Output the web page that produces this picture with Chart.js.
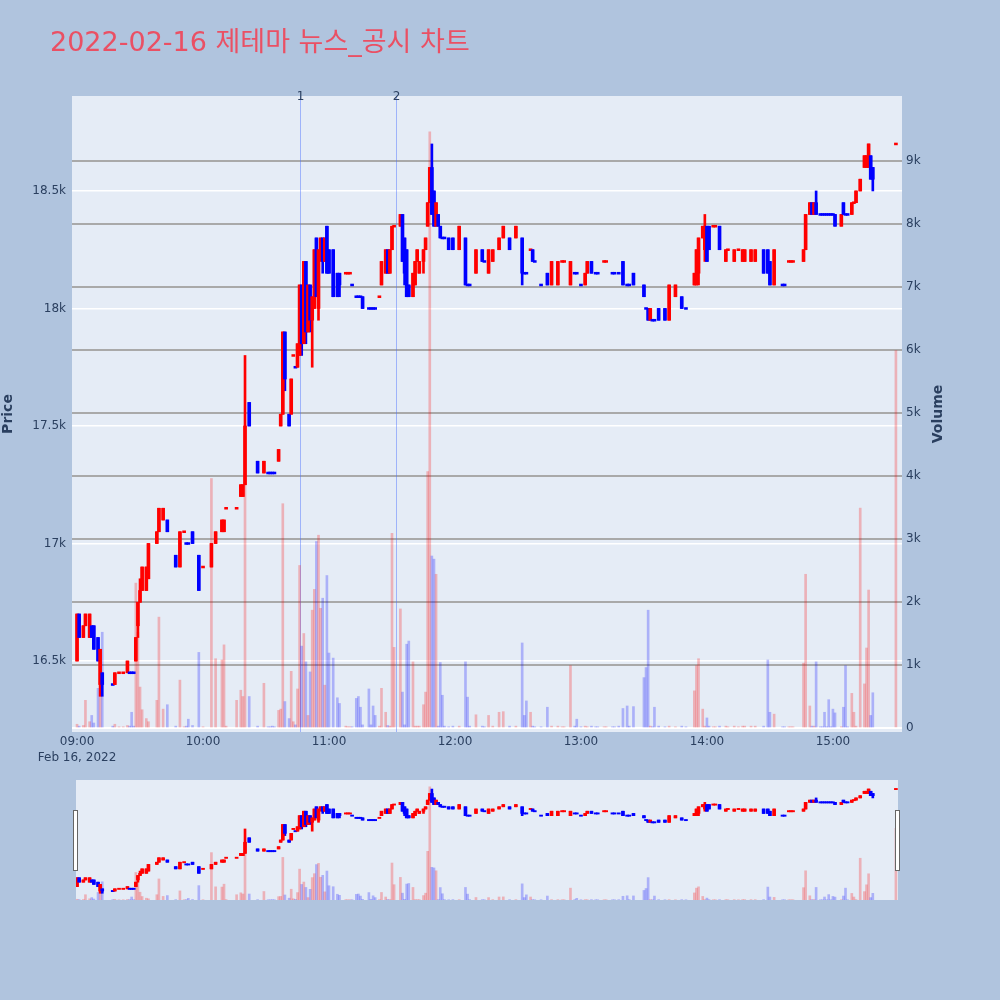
<!DOCTYPE html>
<html>
<head>
<meta charset="utf-8">
<script src="https://cdn.jsdelivr.net/npm/chart.js@4.4.1/dist/chart.umd.min.js"></script>
<style>
  body { margin: 0; background: #b0c4de; }
  #wrap { position: relative; width: 1000px; height: 1000px; background: #b0c4de; overflow: hidden; }
  #title { position: absolute; left: 50px; top: 27px; font: 27px "DejaVu Sans", "Noto Sans CJK KR", sans-serif; color: #ea5064; white-space: nowrap; line-height: 30px; }
  #main { position: absolute; left: 0; top: 0; width: 1000px; height: 775px; }
  #slider { position: absolute; left: 76px; top: 780px; width: 822px; height: 120px; }
  .handle { position: absolute; top: 810px; width: 3px; height: 59px; background: #fff; border: 1px solid #666; }
</style>
</head>
<body>
<div id="wrap">
  <canvas id="main" width="1000" height="775"></canvas>
  <canvas id="slider" width="822" height="120"></canvas>
  <div id="title">2022-02-16 제테마 뉴스_공시 차트</div>
  <div class="handle" style="left:73px"></div>
  <div class="handle" style="left:895px"></div>
</div>
<script>
// 1-minute candles (only the minutes that traded)
const times = [
  '09:00','09:01','09:03','09:04','09:06','09:07','09:08','09:10','09:11','09:12','09:17','09:18','09:20','09:22','09:24','09:25','09:26','09:27','09:28','09:29','09:30','09:31','09:33','09:34','09:38','09:39','09:41','09:43','09:47','09:49','09:51','09:52','09:53','09:55','09:58',
  '10:00','10:04','10:06','10:09','10:10','10:11','10:16','10:18','10:19','10:20','10:22','10:26','10:29','10:31','10:32','10:33','10:34','10:36','10:37','10:38','10:39','10:41','10:42','10:43','10:44','10:45','10:46','10:47','10:48','10:49','10:50','10:51','10:52','10:53','10:54','10:55','10:56','10:57','10:58','10:59',
  '11:00','11:02','11:04','11:05','11:08','11:09','11:10','11:11','11:13','11:14','11:15','11:16','11:19','11:20','11:21','11:22','11:24','11:25','11:27','11:28','11:29','11:30','11:31','11:34','11:35','11:36','11:37','11:38','11:40','11:41','11:42','11:43','11:45','11:46','11:47','11:48','11:49','11:50','11:51','11:52','11:53','11:54','11:55','11:57','11:59',
  '12:02','12:05','12:06','12:07','12:10','12:13','12:14','12:16','12:18','12:21','12:23','12:26','12:29','12:32','12:33','12:34','12:36','12:37','12:38','12:41','12:44','12:46','12:49','12:51','12:52','12:55','12:57','12:58',
  '13:00','13:02','13:03','13:05','13:07','13:08','13:11','13:12','13:15','13:16','13:18','13:20','13:22','13:23','13:25','13:30','13:31','13:32','13:33','13:34','13:35','13:37','13:40','13:42','13:45','13:48','13:50','13:54','13:55','13:56','13:58','13:59',
  '14:00','14:01','14:03','14:04','14:06','14:09','14:10','14:13','14:15','14:17','14:18','14:21','14:23','14:27','14:29','14:30','14:32','14:36','14:37','14:39','14:40','14:41','14:46','14:47','14:49','14:50','14:51','14:52','14:54','14:55','14:56','14:57','14:58','14:59',
  '15:00','15:01','15:04','15:05','15:06','15:07','15:09','15:10','15:11','15:13','15:15','15:16','15:17','15:18','15:19','15:30'
];
const opens = [
  16500,16700,16600,16650,16600,16650,16650,16600,16400,16450,16400,16400,16450,16450,16450,16450,16450,16450,16500,16650,16750,16800,16800,16850,17000,17050,17100,17100,16950,16900,17050,17000,17000,17050,16950,
  16900,16900,17000,17050,17050,17150,17150,17200,17200,17250,17600,17350,17300,17300,17300,17300,17300,17350,17500,17550,17900,17550,17550,17800,17750,17750,17800,18100,17850,18200,17900,18100,17950,18000,18300,18000,18250,18300,18200,18350,
  18250,18250,18150,18150,18150,18150,18150,18100,18050,18050,18050,18050,18000,18000,18000,18000,18050,18100,18150,18250,18150,18250,18350,18350,18400,18300,18250,18100,18050,18100,18200,18150,18200,18250,18350,18450,18600,18500,18350,18400,18350,18300,18300,18300,18300,
  18250,18300,18100,18100,18150,18250,18200,18150,18200,18250,18300,18300,18300,18300,18150,18150,18250,18250,18200,18100,18150,18100,18100,18200,18200,18100,18150,18150,
  18100,18100,18150,18200,18150,18150,18200,18200,18150,18150,18150,18200,18100,18100,18150,18100,18000,18000,17950,17950,17950,18000,18000,17950,18050,18050,18000,18100,18100,18150,18300,18250,
  18350,18350,18350,18350,18350,18200,18250,18200,18250,18200,18200,18200,18200,18250,18250,18200,18100,18100,18100,18200,18200,18200,18200,18250,18400,18450,18400,18450,18400,18400,18400,18400,18400,18400,
  18400,18400,18350,18450,18400,18400,18400,18450,18450,18500,18600,18600,18600,18650,18600,18700
];
const highs = [
  16700,16700,16650,16700,16700,16650,16650,16600,16550,16450,16400,16450,16450,16450,16500,16450,16450,16450,16600,16750,16850,16900,16900,17000,17050,17150,17150,17100,16950,17050,17050,17000,17000,17050,16950,
  16900,17000,17050,17100,17100,17150,17150,17250,17250,17800,17600,17350,17350,17300,17300,17300,17300,17400,17550,17900,17900,17550,17700,17800,17750,17850,18100,18100,18200,18200,18100,18100,18050,18250,18300,18250,18300,18300,18300,18350,
  18250,18250,18150,18150,18150,18150,18150,18100,18050,18050,18050,18050,18000,18000,18000,18000,18050,18200,18250,18250,18250,18350,18350,18400,18400,18300,18250,18100,18150,18200,18250,18200,18250,18300,18450,18600,18700,18500,18450,18400,18350,18300,18300,18300,18300,
  18350,18300,18100,18100,18250,18250,18200,18250,18250,18300,18350,18300,18350,18300,18150,18150,18250,18250,18200,18100,18150,18200,18200,18200,18200,18200,18150,18150,
  18100,18150,18200,18200,18150,18150,18200,18200,18150,18150,18150,18200,18100,18100,18150,18100,18000,18000,18000,17950,17950,18000,18000,18100,18100,18050,18000,18150,18250,18300,18350,18400,
  18350,18350,18350,18350,18350,18250,18250,18250,18250,18250,18250,18250,18250,18250,18250,18200,18250,18100,18100,18200,18200,18200,18250,18400,18450,18450,18450,18500,18400,18400,18400,18400,18400,18400,
  18400,18400,18400,18450,18400,18400,18450,18450,18500,18550,18650,18650,18700,18650,18600,18700
];
const lows = [
  16500,16600,16600,16650,16600,16600,16550,16500,16350,16350,16400,16400,16450,16450,16450,16450,16450,16450,16500,16600,16750,16800,16800,16850,17000,17050,17100,17050,16900,16900,17050,17000,17000,17000,16800,
  16900,16900,17000,17050,17050,17150,17150,17200,17200,17250,17500,17300,17300,17300,17300,17300,17300,17350,17500,17550,17650,17500,17550,17800,17750,17750,17800,17800,17850,17850,17900,17900,17750,18000,18050,17950,18200,18150,18200,18150,
  18150,18050,18050,18050,18150,18150,18150,18100,18050,18050,18050,18000,18000,18000,18000,18000,18050,18100,18150,18150,18150,18250,18350,18350,18200,18100,18050,18050,18050,18100,18200,18150,18150,18250,18350,18450,18400,18350,18350,18350,18300,18300,18300,18250,18250,
  18250,18100,18100,18100,18150,18200,18200,18150,18200,18250,18300,18250,18300,18100,18150,18150,18250,18200,18200,18100,18100,18100,18100,18200,18200,18100,18150,18150,
  18100,18100,18150,18150,18150,18150,18200,18200,18150,18150,18150,18100,18100,18100,18100,18050,18000,17950,17950,17950,17950,17950,17950,17950,18050,18000,18000,18100,18100,18100,18300,18200,
  18200,18250,18350,18350,18250,18200,18250,18200,18250,18200,18200,18200,18200,18150,18150,18100,18100,18100,18100,18200,18200,18200,18200,18250,18400,18400,18400,18400,18400,18400,18400,18400,18400,18400,
  18400,18350,18350,18400,18400,18400,18400,18450,18450,18500,18600,18600,18600,18550,18500,18700
];
const closes = [
  16700,16600,16650,16700,16700,16600,16550,16500,16550,16400,16400,16450,16450,16450,16500,16450,16450,16450,16600,16750,16800,16900,16900,17000,17050,17150,17150,17050,16900,17050,17050,17000,17000,17000,16800,
  16900,17000,17050,17100,17100,17150,17150,17250,17250,17500,17500,17300,17350,17300,17300,17300,17300,17400,17550,17900,17700,17500,17700,17800,17750,17850,18100,17850,18200,17900,18100,17950,18050,18250,18050,18250,18300,18200,18300,18150,
  18150,18050,18050,18100,18150,18150,18150,18100,18050,18050,18050,18000,18000,18000,18000,18000,18050,18200,18250,18150,18250,18350,18350,18400,18200,18150,18050,18050,18150,18200,18250,18200,18250,18300,18450,18600,18400,18350,18450,18350,18300,18300,18300,18250,18250,
  18350,18100,18100,18100,18250,18200,18200,18250,18250,18300,18350,18250,18350,18150,18150,18150,18250,18200,18200,18100,18100,18200,18200,18200,18200,18200,18150,18150,
  18100,18150,18200,18150,18150,18150,18200,18200,18150,18150,18150,18100,18100,18100,18100,18050,18000,17950,18000,17950,17950,17950,17950,18100,18100,18000,18000,18150,18250,18300,18350,18350,
  18200,18250,18350,18350,18250,18250,18250,18250,18250,18250,18250,18250,18250,18150,18150,18100,18250,18100,18100,18200,18200,18200,18250,18400,18450,18400,18450,18400,18400,18400,18400,18400,18400,18400,
  18400,18350,18400,18400,18400,18400,18450,18450,18500,18550,18650,18650,18700,18550,18550,18700
];
const volumes = [
  60,30,40,440,100,200,80,630,870,1520,30,60,20,20,40,30,250,30,2300,1520,650,290,150,100,440,1760,300,370,30,760,20,30,140,40,1200,
  20,3960,1100,1080,1320,30,440,600,500,3960,500,30,710,20,20,30,20,280,300,3560,420,150,900,100,50,620,2580,1300,1500,1050,200,890,1870,2200,2960,3060,1900,2060,680,2420,
  1190,1110,480,390,30,20,20,20,470,500,330,50,620,50,350,200,30,630,250,40,30,3090,1280,1890,570,50,1330,1380,1050,30,30,30,370,570,4070,9460,2730,2680,2440,30,1040,520,30,20,30,
  30,1050,490,30,210,30,20,200,30,250,260,30,30,1350,200,430,250,30,20,20,330,30,30,20,20,990,30,140,
  20,30,20,30,20,20,20,20,20,20,30,310,350,30,340,800,960,1870,30,20,330,30,20,30,20,30,20,590,990,1100,300,30,
  160,30,20,20,30,30,20,30,20,30,30,30,30,30,1080,250,220,20,20,20,20,20,1030,2440,350,30,30,1050,20,20,250,20,450,20,
  300,240,20,330,990,20,550,250,30,3490,700,1270,2190,200,560,5990
];

// news / disclosure markers
const eventTimes = ['10:46', '11:32'];
const eventLabels = ['1', '2'];

// axis ticks
const timeTicks = ['09:00', '10:00', '11:00', '12:00', '13:00', '14:00', '15:00'];
const priceTicks = [16500, 17000, 17500, 18000, 18500];
const volumeTicks = [0, 1000, 2000, 3000, 4000, 5000, 6000, 7000, 8000, 9000];
const dateLabel = 'Feb 16, 2022';

const UP = '#ff0000';
const DOWN = '#0000ff';
const UP_VOL = 'rgba(255, 0, 0, 0.25)';
const DOWN_VOL = 'rgba(0, 0, 255, 0.25)';
const TEXT = '#2a3f5f';
const FONT = 'DejaVu Sans';

const toMinute = (t) => {
  const [h, m] = t.split(':').map(Number);
  return (h - 9) * 60 + m;
};
const toClock = (minute) => {
  const h = 9 + Math.floor(minute / 60);
  const m = minute % 60;
  return `${String(h).padStart(2, '0')}:${String(m).padStart(2, '0')}`;
};

const minutes = times.map(toMinute);

// same rule as plotly: flat candles take their direction from the previous close
const rising = [];
closes.forEach((c, i) => {
  const o = opens[i];
  if (c !== o) { rising.push(c > o); return; }
  if (i === 0) { rising.push(true); return; }
  const prev = closes[i - 1];
  rising.push(c === prev ? rising[i - 1] : c > prev);
});

function buildDatasets(flatHalf) {
  const body = minutes.map((m, i) => {
    const lo = Math.min(opens[i], closes[i]);
    const hi = Math.max(opens[i], closes[i]);
    return { x: m, y: lo === hi ? [lo - flatHalf, hi + flatHalf] : [lo, hi] };
  });
  const wick = minutes.map((m, i) => ({ x: m, y: [lows[i], highs[i]] }));
  const vol = minutes.map((m, i) => ({ x: m, y: volumes[i] }));

  return [
    {
      data: body,
      backgroundColor: rising.map((r) => (r ? UP : DOWN)),
      barThickness: 3,
      grouped: false,
      yAxisID: 'y',
      order: 0
    },
    {
      data: wick,
      backgroundColor: rising.map((r) => (r ? UP : DOWN)),
      barThickness: 2,
      grouped: false,
      yAxisID: 'y',
      order: 1
    },
    {
      data: vol,
      backgroundColor: rising.map((r) => (r ? UP_VOL : DOWN_VOL)),
      barThickness: 2,
      grouped: false,
      yAxisID: 'yv',
      order: 2
    }
  ];
}

const useTicks = (values) => (scale) => {
  scale.ticks = values.map((value) => ({ value }));
};

const plotBackground = {
  id: 'plotBackground',
  beforeDraw(chart) {
    const { ctx, chartArea: a } = chart;
    ctx.save();
    ctx.fillStyle = '#e5ecf6';
    ctx.fillRect(a.left, a.top, a.right - a.left, a.bottom - a.top);
    ctx.restore();
  }
};

const eventMarkers = {
  id: 'eventMarkers',
  beforeDatasetsDraw(chart) {
    const { ctx, chartArea: a, scales } = chart;
    ctx.save();
    eventTimes.forEach((t, i) => {
      const x = Math.round(scales.x.getPixelForValue(toMinute(t))) + 0.5;
      ctx.strokeStyle = 'rgba(70, 110, 255, 0.45)';
      ctx.lineWidth = 1;
      ctx.beginPath();
      ctx.moveTo(x, a.top);
      ctx.lineTo(x, a.bottom);
      ctx.stroke();
      ctx.fillStyle = TEXT;
      ctx.font = `12px "${FONT}"`;
      ctx.textAlign = 'center';
      ctx.textBaseline = 'bottom';
      ctx.fillText(eventLabels[i], x, a.top + 7);
    });
    ctx.restore();
  }
};

// plotly writes the right axis title bottom-to-top
const volumeTitle = {
  id: 'volumeTitle',
  afterDraw(chart) {
    const { ctx, chartArea: a } = chart;
    ctx.save();
    ctx.translate(938, (a.top + a.bottom) / 2);
    ctx.rotate(-Math.PI / 2);
    ctx.fillStyle = TEXT;
    ctx.font = `bold 14px "${FONT}"`;
    ctx.textAlign = 'center';
    ctx.textBaseline = 'middle';
    ctx.fillText('Volume', 0, 0);
    ctx.restore();
  }
};

const tickFont = { family: FONT, size: 12 };

new Chart(document.getElementById('main'), {
  type: 'bar',
  data: { datasets: buildDatasets(4) },
  options: {
    responsive: false,
    animation: false,
    layout: { padding: { top: 96, right: 54, bottom: 0, left: 0 } },
    plugins: { legend: { display: false }, tooltip: { enabled: false } },
    scales: {
      x: {
        type: 'linear',
        offset: false,
        min: -2.4,
        max: 392.9,
        grid: { display: false, drawTicks: false },
        border: { display: false },
        afterBuildTicks: useTicks(timeTicks.map(toMinute)),
        ticks: {
          autoSkip: false,
          maxRotation: 0,
          padding: 2,
          color: TEXT,
          font: { ...tickFont, lineHeight: 1.35 },
          callback: (v) => (v === 0 ? [toClock(v), dateLabel] : toClock(v))
        },
        afterFit: (scale) => { scale.height = 43; }
      },
      y: {
        position: 'left',
        min: 16198,
        max: 18904,
        grid: { color: '#ffffff', lineWidth: 1.5, drawTicks: false },
        border: { display: false },
        title: {
          display: true,
          text: 'Price',
          color: TEXT,
          font: { family: FONT, size: 14, weight: 'bold' },
          padding: { top: 0, bottom: 0 }
        },
        afterBuildTicks: useTicks(priceTicks),
        ticks: {
          padding: 6,
          color: TEXT,
          font: tickFont,
          callback: (v) => `${v / 1000}k`
        },
        afterFit: (scale) => { scale.width = 72; }
      },
      yv: {
        position: 'right',
        min: -63,
        max: 10030,
        grid: {
          color: (ctx) => (ctx.tick && ctx.tick.value === 0 ? '#ffffff' : '#a9a9a9'),
          lineWidth: 2,
          drawTicks: false
        },
        border: { display: false },
        afterBuildTicks: useTicks(volumeTicks),
        ticks: {
          padding: 4,
          color: TEXT,
          font: tickFont,
          callback: (v) => (v === 0 ? '0' : `${v / 1000}k`)
        },
        afterFit: (scale) => { scale.width = 44; }
      }
    }
  },
  plugins: [plotBackground, eventMarkers, volumeTitle]
});

// range slider: same series, no axes
new Chart(document.getElementById('slider'), {
  type: 'bar',
  data: { datasets: buildDatasets(14) },
  options: {
    responsive: false,
    animation: false,
    layout: { padding: 0 },
    plugins: { legend: { display: false }, tooltip: { enabled: false } },
    scales: {
      x: { type: 'linear', offset: false, min: -0.5, max: 391, display: false },
      y: { min: 16198, max: 18904, display: false },
      yv: { position: 'right', min: 0, max: 10030, display: false }
    }
  },
  plugins: [plotBackground]
});
</script>
</body>
</html>
